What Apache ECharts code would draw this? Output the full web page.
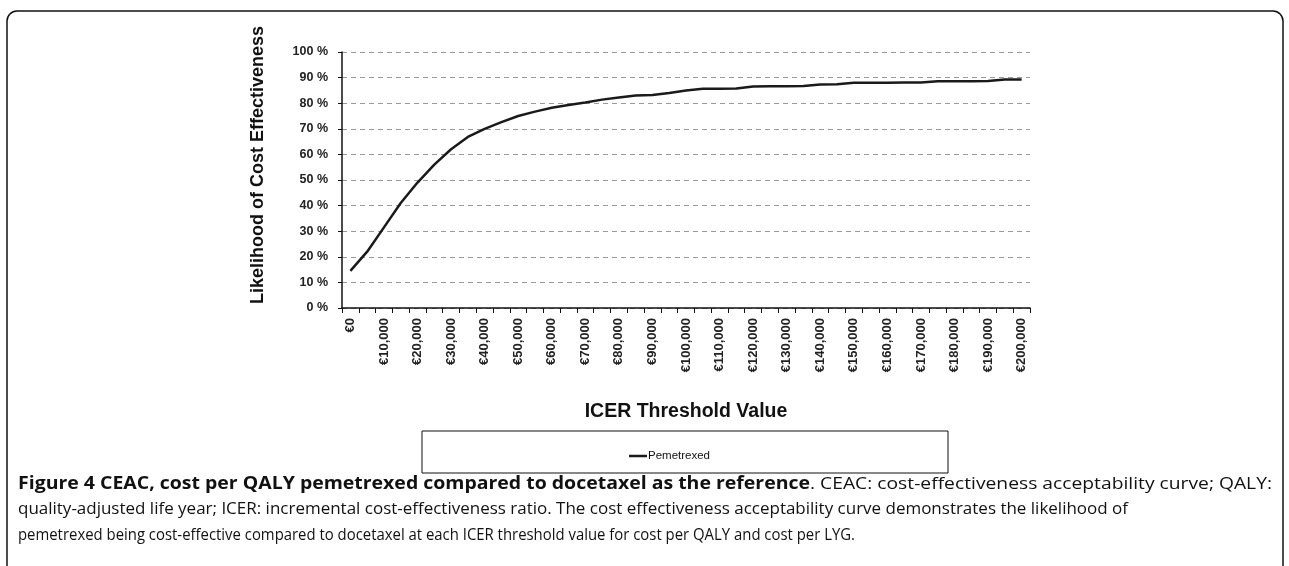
<!DOCTYPE html>
<html>
<head>
<meta charset="utf-8">
<title>CEAC pemetrexed</title>
<script src="https://cdn.jsdelivr.net/npm/echarts@6/dist/echarts.min.js"></script>
<style>
  html, body { margin: 0; padding: 0; background: #fff; }
  #chart { width: 1289px; height: 566px; }
</style>
</head>
<body>
<div id="chart"></div>
<script>
// ICER threshold categories, every 5 000 euro
const thresholds = []
for (let v = 0; v <= 200000; v += 5000) thresholds.push(v)

// likelihood of cost effectiveness (%)
const pemetrexed = [
  14.5, 22, 31.5, 41, 49, 56, 62, 66.8, 70, 72.6,
  75, 76.7, 78.2, 79.3, 80.3, 81.4, 82.2, 83, 83.2, 84,
  85, 85.6, 85.6, 85.7, 86.5, 86.6, 86.6, 86.7, 87.3, 87.4,
  88, 88, 88, 88.1, 88.1, 88.6, 88.6, 88.6, 88.7, 89.3,
  89.3
]

const yTicks = [0, 10, 20, 30, 40, 50, 60, 70, 80, 90, 100]

const captionBold = 'Figure 4 CEAC, cost per QALY pemetrexed compared to docetaxel as the reference'
const captionRest = '. CEAC: cost-effectiveness acceptability curve; QALY:'
const captionLine2 = 'quality-adjusted life year; ICER: incremental cost-effectiveness ratio. The cost effectiveness acceptability curve demonstrates the likelihood of'
const captionLine3 = 'pemetrexed being cost-effective compared to docetaxel at each ICER threshold value for cost per QALY and cost per LYG.'

const euro = v => '€' + (v === 0 ? '0' : v.toLocaleString('en-US'))

// the caption face in the original is condensed; squeeze each run to its width there
const capFont = '17px "Open Sans"'
const capBoldFont = 'bold 18px "Open Sans"'
const ctx = document.createElement('canvas').getContext('2d')
function fit(text, font, width) {
  ctx.font = font
  return width / ctx.measureText(text).width
}

function captionText(text, font, x, y, width) {
  return {
    type: 'text',
    x: x,
    y: y,
    scaleX: fit(text, font, width),
    style: { text: text, font: font, fill: '#111', verticalAlign: 'middle' },
    silent: true
  }
}

const chart = echarts.init(document.getElementById('chart'), null, { renderer: 'canvas' })

chart.setOption({
  animation: false,
  textStyle: { fontFamily: '"Liberation Sans", Arial, sans-serif' },
  grid: {
    left: 342,
    top: 52,
    right: 259,
    bottom: 258,
    containLabel: false
  },
  legend: {
    left: 624,
    top: 445,
    itemWidth: 18,
    itemHeight: 2.5,
    itemGap: 2,
    textStyle: { fontSize: 11.5, color: '#111', fontFamily: '"Liberation Sans", Arial', padding: [0, 0, 0, -4] },
    data: [{ name: 'Pemetrexed', icon: 'rect' }]
  },
  xAxis: {
    type: 'category',
    data: thresholds,
    boundaryGap: true,
    name: 'ICER Threshold Value',
    nameLocation: 'middle',
    nameGap: 94,
    nameTextStyle: { fontSize: 19.5, fontWeight: 'bold', color: '#111' },
    axisLine: { show: true, lineStyle: { color: '#111', width: 1.5 } },
    axisTick: { show: true, interval: 0, length: 5, lineStyle: { color: '#111' } },
    axisLabel: {
      interval: 1,
      rotate: 90,
      margin: 10,
      fontSize: 13,
      fontWeight: 'bold',
      color: '#222',
      formatter: v => euro(Number(v))
    },
    splitLine: { show: false }
  },
  yAxis: {
    type: 'value',
    min: yTicks[0],
    max: yTicks[yTicks.length - 1],
    interval: 10,
    axisLine: { show: true, lineStyle: { color: '#111', width: 1.5 } },
    axisTick: { show: true, length: 4, lineStyle: { color: '#111' } },
    axisLabel: {
      margin: 14,
      fontSize: 12.5,
      fontWeight: 'bold',
      color: '#222',
      formatter: '{value} %'
    },
    splitLine: {
      show: true,
      lineStyle: { color: '#9a9a9a', type: [5, 4], width: 1.2 }
    }
  },
  series: [{
    name: 'Pemetrexed',
    type: 'line',
    data: pemetrexed,
    symbol: 'none',
    smooth: false,
    lineStyle: { color: '#1a1a1a', width: 2.5 },
    itemStyle: { color: '#1a1a1a' }
  }],
  graphic: [
    // outer figure frame
    {
      type: 'rect',
      shape: { x: 7, y: 11, width: 1276, height: 640, r: 10 },
      style: { fill: 'none', stroke: '#111', lineWidth: 1.5 },
      silent: true
    },
    // legend box
    {
      type: 'rect',
      shape: { x: 422, y: 431, width: 526, height: 42 },
      style: { fill: 'none', stroke: '#111', lineWidth: 1 },
      silent: true
    },
    // y axis title
    {
      type: 'text',
      x: 258,
      y: 165,
      rotation: Math.PI / 2,
      style: {
        text: 'Likelihood of Cost Effectiveness',
        font: 'bold 18px "Liberation Sans", Arial',
        fill: '#111',
        align: 'center',
        verticalAlign: 'middle'
      }
    },
    // caption, three lines
    captionText(captionBold, capBoldFont, 18, 484, 792),
    captionText(captionRest, capFont, 810, 484, 462),
    captionText(captionLine2, capFont, 18, 509, 1110),
    captionText(captionLine3, capFont, 18, 535, 837)
  ]
})
</script>
</body>
</html>
